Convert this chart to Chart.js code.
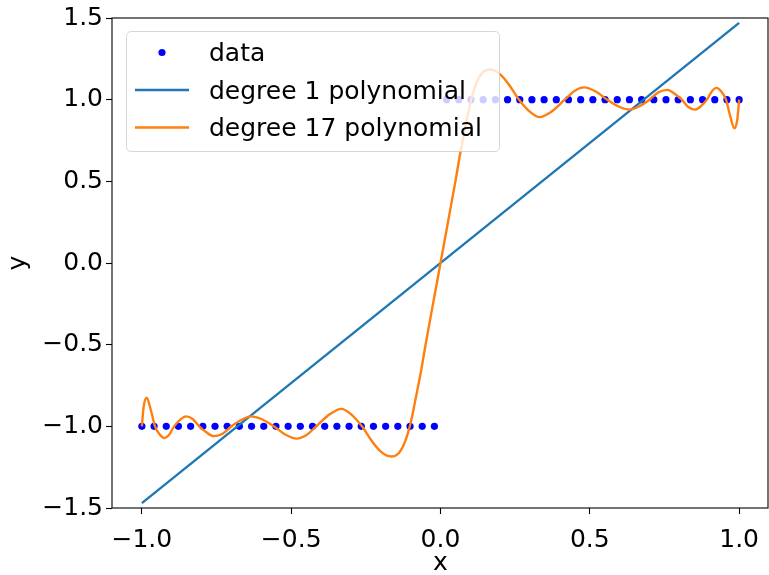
<!DOCTYPE html>
<html>
<head>
<meta charset="utf-8">
<script src="https://cdn.jsdelivr.net/npm/chart.js@4/dist/chart.umd.min.js"></script>
<style>
  html, body { margin: 0; padding: 0; background: #fff; }
  canvas { display: block; }
</style>
</head>
<body>
<canvas id="polyChart" width="769" height="575"></canvas>
<script>
// sampled data (blue dots): sign(x) on 50 points
const dataX = [
  -1.0, -0.9592, -0.9184, -0.8776, -0.8367, -0.7959, -0.7551, -0.7143, -0.6735, -0.6327,
  -0.5918, -0.5510, -0.5102, -0.4694, -0.4286, -0.3878, -0.3469, -0.3061, -0.2653, -0.2245,
  -0.1837, -0.1429, -0.1020, -0.0612, -0.0204,
  0.0204, 0.0612, 0.1020, 0.1429, 0.1837, 0.2245, 0.2653, 0.3061, 0.3469, 0.3878,
  0.4286, 0.4694, 0.5102, 0.5510, 0.5918, 0.6327, 0.6735, 0.7143, 0.7551, 0.7959,
  0.8367, 0.8776, 0.9184, 0.9592, 1.0
];
const dataY = [
  -1, -1, -1, -1, -1, -1, -1, -1, -1, -1, -1, -1, -1, -1, -1, -1, -1, -1, -1, -1, -1, -1, -1, -1, -1,
  1, 1, 1, 1, 1, 1, 1, 1, 1, 1, 1, 1, 1, 1, 1, 1, 1, 1, 1, 1, 1, 1, 1, 1, 1
];

// degree 1 fit (straight line)
const deg1X = [-1.0, 1.0];
const deg1Y = [-1.47, 1.47];

// degree 17 fit
const deg17X = [
  -1.0, -0.994, -0.984, -0.97, -0.956, -0.94, -0.925, -0.91, -0.892, -0.872,
  -0.852, -0.83, -0.808, -0.785, -0.76, -0.73, -0.7, -0.666, -0.634, -0.6,
  -0.558, -0.52, -0.481, -0.45, -0.416, -0.37, -0.332, -0.3, -0.263, -0.23,
  -0.2, -0.165, -0.14, -0.12, -0.1, -0.08, -0.066, -0.05, -0.025, 0.0,
  0.025, 0.05, 0.066, 0.08, 0.1, 0.12, 0.14, 0.165, 0.2, 0.23,
  0.263, 0.3, 0.332, 0.37, 0.416, 0.45, 0.481, 0.52, 0.558, 0.6,
  0.634, 0.666, 0.7, 0.73, 0.76, 0.785, 0.808, 0.83, 0.852, 0.872,
  0.892, 0.91, 0.925, 0.94, 0.956, 0.97, 0.984, 0.994, 1.0
];
const deg17Y = [
  -1.0, -0.88, -0.825, -0.9, -1.0, -1.05, -1.072, -1.055, -1.0, -0.96,
  -0.939, -0.955, -1.0, -1.035, -1.06, -1.045, -1.0, -0.96, -0.939, -0.955,
  -1.0, -1.05, -1.075, -1.055, -1.0, -0.925, -0.893, -0.925, -1.0, -1.09,
  -1.155, -1.185, -1.165, -1.1, -0.98, -0.8, -0.67, -0.5, -0.25, 0.0,
  0.25, 0.5, 0.67, 0.8, 0.98, 1.1, 1.165, 1.185, 1.155, 1.09,
  1.0, 0.925, 0.893, 0.925, 1.0, 1.055, 1.075, 1.05, 1.0, 0.955,
  0.939, 0.96, 1.0, 1.045, 1.06, 1.035, 1.0, 0.955, 0.939, 0.96,
  1.0, 1.055, 1.072, 1.05, 1.0, 0.9, 0.825, 0.88, 1.0
];

const xTicks = [-1.0, -0.5, 0.0, 0.5, 1.0];
const yTicks = [-1.5, -1.0, -0.5, 0.0, 0.5, 1.0, 1.5];
const seriesNames = ['data', 'degree 1 polynomial', 'degree 17 polynomial'];

const FONT = "'DejaVu Sans', 'Liberation Sans', sans-serif";
const BLUE_DOT = '#0000ff';
const LINE1 = '#1f77b4';
const LINE17 = '#ff7f0e';

function toPoints(xs, ys) {
  return xs.map((x, i) => ({ x: x, y: ys[i] }));
}

function fmtTick(v) {
  return v.toFixed(1).replace('-', '\u2212');
}

// black box round the plot area, like matplotlib spines
const frame = {
  id: 'frame',
  afterDatasetsDraw(chart) {
    const a = chart.chartArea;
    const ctx = chart.ctx;
    ctx.save();
    ctx.strokeStyle = '#000';
    ctx.lineWidth = 1.1;
    ctx.strokeRect(a.left, a.top, a.right - a.left - 1, a.bottom - a.top);
    ctx.restore();
  }
};

// legend drawn inside the axes, upper left
const innerLegend = {
  id: 'innerLegend',
  afterDraw(chart) {
    const ctx = chart.ctx;
    const a = chart.chartArea;
    const bx = a.left + 14.5, by = a.top + 13.5, bw = 373, bh = 120, r = 5;
    ctx.save();
    ctx.beginPath();
    ctx.moveTo(bx + r, by);
    ctx.lineTo(bx + bw - r, by);
    ctx.quadraticCurveTo(bx + bw, by, bx + bw, by + r);
    ctx.lineTo(bx + bw, by + bh - r);
    ctx.quadraticCurveTo(bx + bw, by + bh, bx + bw - r, by + bh);
    ctx.lineTo(bx + r, by + bh);
    ctx.quadraticCurveTo(bx, by + bh, bx, by + bh - r);
    ctx.lineTo(bx, by + r);
    ctx.quadraticCurveTo(bx, by, bx + r, by);
    ctx.closePath();
    ctx.fillStyle = 'rgba(255,255,255,0.8)';
    ctx.fill();
    ctx.strokeStyle = 'rgba(204,204,204,0.8)';
    ctx.lineWidth = 1;
    ctx.stroke();

    const ds = chart.data.datasets;
    const rowY = [by + 21, by + 58.5, by + 96];
    const hx0 = bx + 8.5, hx1 = bx + 62.5, tx = bx + 82.5;
    ds.forEach((d, i) => {
      const y = rowY[i];
      if (i === 0) {
        ctx.beginPath();
        ctx.arc((hx0 + hx1) / 2, y, d.pointRadius, 0, Math.PI * 2);
        ctx.fillStyle = d.pointBackgroundColor;
        ctx.fill();
      } else {
        ctx.beginPath();
        ctx.moveTo(hx0, y);
        ctx.lineTo(hx1, y);
        ctx.strokeStyle = d.borderColor;
        ctx.lineWidth = d.borderWidth;
        ctx.stroke();
      }
      ctx.fillStyle = '#000';
      ctx.font = '25px ' + FONT;
      ctx.textBaseline = 'alphabetic';
      ctx.textAlign = 'left';
      ctx.fillText(d.label, tx, y + 8.5);
    });
    ctx.restore();
  }
};

const ctx = document.getElementById('polyChart').getContext('2d');
new Chart(ctx, {
  type: 'scatter',
  data: {
    datasets: [
      {
        label: seriesNames[0],
        data: toPoints(dataX, dataY),
        showLine: false,
        pointRadius: 3.6,
        pointBackgroundColor: BLUE_DOT,
        pointBorderWidth: 0,
        order: 3
      },
      {
        label: seriesNames[1],
        data: toPoints(deg1X, deg1Y),
        showLine: true,
        borderColor: LINE1,
        borderWidth: 2.4,
        pointRadius: 0,
        order: 2
      },
      {
        label: seriesNames[2],
        data: toPoints(deg17X, deg17Y),
        showLine: true,
        borderColor: LINE17,
        borderWidth: 2.4,
        pointRadius: 0,
        cubicInterpolationMode: 'monotone',
        order: 1
      }
    ]
  },
  options: {
    responsive: false,
    animation: false,
    devicePixelRatio: 1,
    layout: { autoPadding: false, padding: { top: 15, right: 0, left: 0, bottom: 0 } },
    plugins: {
      legend: { display: false },
      tooltip: { enabled: false }
    },
    scales: {
      x: {
        type: 'linear',
        min: -1.1,
        max: 1.1,
        afterBuildTicks: axis => { axis.ticks = xTicks.map(v => ({ value: v })); },
        afterFit: axis => {
          axis.height = 67;
          axis.paddingLeft = 0;
          axis.paddingRight = 0;
        },
        ticks: {
          callback: v => fmtTick(v),
          font: { family: FONT, size: 25 },
          color: '#000',
          padding: 11,
          maxRotation: 0
        },
        grid: {
          drawOnChartArea: false,
          drawTicks: true,
          tickLength: 6,
          tickWidth: 1.1,
          tickColor: '#000'
        },
        border: { display: false },
        title: {
          display: true,
          text: 'x',
          font: { family: FONT, size: 25 },
          color: '#000',
          padding: { top: 0, bottom: -3 }
        }
      },
      y: {
        type: 'linear',
        min: -1.5,
        max: 1.5,
        afterBuildTicks: axis => { axis.ticks = yTicks.map(v => ({ value: v })); },
        afterFit: axis => { axis.width = 112; },
        ticks: {
          callback: v => fmtTick(v),
          font: { family: FONT, size: 25 },
          color: '#000',
          padding: 3
        },
        grid: {
          drawOnChartArea: false,
          drawTicks: true,
          tickLength: 6,
          tickWidth: 1.1,
          tickColor: '#000'
        },
        border: { display: false },
        title: {
          display: true,
          text: 'y',
          font: { family: FONT, size: 25 },
          color: '#000',
          padding: { top: 3, bottom: 0 }
        }
      }
    }
  },
  plugins: [frame, innerLegend]
});
</script>
</body>
</html>
